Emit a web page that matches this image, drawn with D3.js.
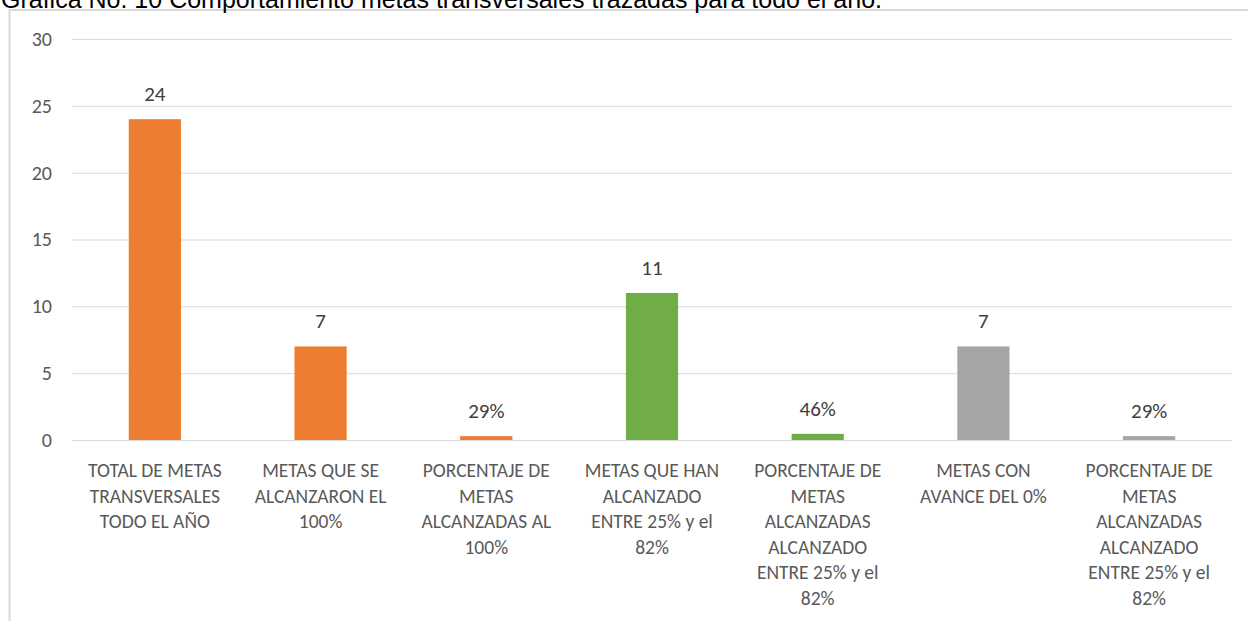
<!DOCTYPE html>
<html>
<head>
<meta charset="utf-8">
<script src="https://cdn.jsdelivr.net/npm/d3@7"></script>
<style>
  body { margin: 0; background: #fff; }
  svg { display: block; }
  .tick text, .lbl, .cat { font-family: Carlito, Calibri, Lato, "Open Sans", sans-serif; }
</style>
</head>
<body>
<svg id="chart"></svg>
<script>
const title = "Gráfica No. 10 Comportamiento metas transversales trazadas para todo el año.";

const categories = [
  ["TOTAL DE METAS", "TRANSVERSALES", "TODO EL AÑO"],
  ["METAS QUE SE", "ALCANZARON EL", "100%"],
  ["PORCENTAJE DE", "METAS", "ALCANZADAS AL", "100%"],
  ["METAS QUE HAN", "ALCANZADO", "ENTRE 25% y el", "82%"],
  ["PORCENTAJE DE", "METAS", "ALCANZADAS", "ALCANZADO", "ENTRE 25% y el", "82%"],
  ["METAS CON", "AVANCE DEL 0%"],
  ["PORCENTAJE DE", "METAS", "ALCANZADAS", "ALCANZADO", "ENTRE 25% y el", "82%"]
];
const values = [24, 7, 0.29, 11, 0.46, 7, 0.29];
const labels = ["24", "7", "29%", "11", "46%", "7", "29%"];
const barColors = ["#ED7D31", "#ED7D31", "#ED7D31", "#70AD47", "#70AD47", "#A5A5A5", "#A5A5A5"];
const yTicks = [0, 5, 10, 15, 20, 25, 30];

const width = 1248, height = 621;
const margin = { top: 39, right: 16, bottom: 181, left: 72 };
const innerW = width - margin.left - margin.right;
const innerH = height - margin.top - margin.bottom;

const svg = d3.select("#chart").attr("width", width).attr("height", height);

// frame around chart area
svg.append("path")
  .attr("d", "M9.5,621 V10 H1248")
  .attr("fill", "none")
  .attr("stroke", "#d9d9d9")
  .attr("stroke-width", 2);

// title (partly cut at top like the source)
svg.append("text")
  .attr("x", 1)
  .attr("y", 8)
  .attr("font-family", "'Liberation Sans', Arial, sans-serif")
  .attr("font-size", 25)
  .attr("fill", "#000")
  .text(title);

const g = svg.append("g").attr("transform", "translate(" + margin.left + "," + margin.top + ")");

const x = d3.scaleBand().domain(d3.range(values.length)).range([0, innerW]).padding(0);
const y = d3.scaleLinear().domain([0, 30]).range([innerH, 0]);

const yAxis = d3.axisLeft(y).tickValues(yTicks).tickSize(-innerW).tickPadding(20);
const ga = g.append("g").attr("class", "y axis").call(yAxis);
ga.select(".domain").remove();
ga.selectAll(".tick line").attr("stroke", "#d9d9d9").attr("stroke-width", 1);
ga.selectAll(".tick text").attr("fill", "#595959").attr("font-size", 20);

const barW = x.step() * 0.315;

g.selectAll(".bar")
  .data(values)
  .enter()
  .append("rect")
  .attr("class", "bar")
  .attr("x", (d, i) => x(i) + x.bandwidth() / 2 - barW / 2)
  .attr("y", (d) => y(d))
  .attr("width", barW)
  .attr("height", (d) => innerH - y(d))
  .attr("fill", (d, i) => barColors[i]);

g.selectAll(".lbl")
  .data(values)
  .enter()
  .append("text")
  .attr("class", "lbl")
  .attr("x", (d, i) => x(i) + x.bandwidth() / 2)
  .attr("y", (d) => y(d) - 18)
  .attr("text-anchor", "middle")
  .attr("font-size", 21)
  .attr("fill", "#404040")
  .text((d, i) => labels[i]);

const cats = g.selectAll(".cat")
  .data(categories)
  .enter()
  .append("text")
  .attr("class", "cat")
  .attr("text-anchor", "middle")
  .attr("font-size", 19.5)
  .attr("fill", "#595959")
  .attr("transform", (d, i) => "translate(" + (x(i) + x.bandwidth() / 2) + "," + (innerH + 37) + ")");

cats.selectAll("tspan")
  .data((d) => d)
  .enter()
  .append("tspan")
  .attr("x", 0)
  .attr("y", (d, i) => i * 25.5)
  .text((d) => d);
</script>
</body>
</html>
